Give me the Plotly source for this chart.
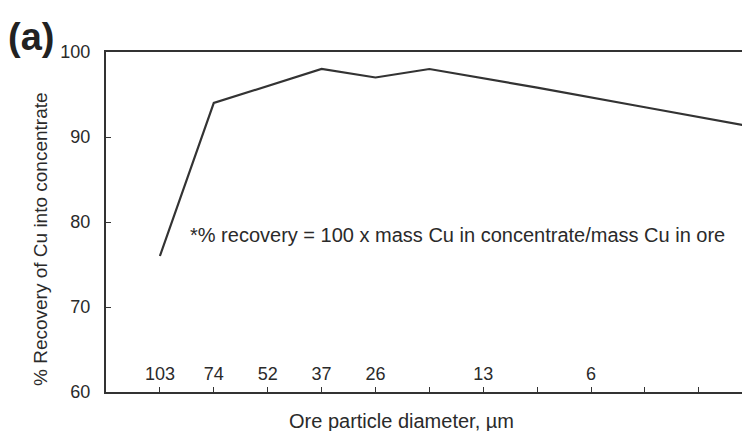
import plotly.graph_objects as go

# ---- data ----
x_index = [0, 1, 3, 4, 5, 7, 9, 11]
recovery = [76, 94, 98, 97, 98, 95.8, 93.5, 91.2]

tick_positions = [0, 1, 2, 3, 4, 5, 6, 7, 8, 9, 10]
tick_labels = ["103", "74", "52", "37", "26", "", "13", "", "6", "", ""]

y_ticks = [60, 70, 80, 90, 100]

W, H = 742, 431
L, R, T, B = 106, 0, 52, 39
pw, ph = W - L - R, H - T - B

def px(x):
    return (x - L) / pw

def py(y):
    return (H - B - y) / ph

FONT = "Liberation Sans, Arial, sans-serif"
INK = "#2a2a2a"

fig = go.Figure()
fig.add_trace(go.Scatter(
    x=x_index, y=recovery, mode="lines",
    line=dict(color="#333333", width=2.2),
    showlegend=False, cliponaxis=True,
))

fig.update_layout(
    width=W, height=H,
    margin=dict(l=L, r=R, t=T, b=B, pad=0),
    paper_bgcolor="white", plot_bgcolor="white",
    font=dict(family=FONT, color=INK),
    xaxis=dict(
        range=[-1, 10.8], showgrid=False, zeroline=False,
        showline=True, linecolor="#333333", linewidth=2, mirror=True,
        ticks="inside", ticklen=5, tickwidth=1, tickcolor="#333333",
        tickvals=tick_positions, ticktext=tick_labels,
        ticklabelposition="outside", ticklabelstandoff=-36,
        tickfont=dict(size=18, color=INK),
    ),
    yaxis=dict(
        range=[60, 100], showgrid=False, zeroline=False,
        showline=True, linecolor="#333333", linewidth=2,
        ticks="inside", ticklen=5, tickwidth=1, tickcolor="#333333",
        tickvals=y_ticks, tickfont=dict(size=18, color=INK),
        ticklabelstandoff=10,
    ),
)

fig.add_annotation(text="<b>(a)</b>", xref="paper", yref="paper",
                   x=px(6), y=py(37), xanchor="left", yanchor="middle",
                   showarrow=False, font=dict(size=38, color="#222222"))
fig.add_annotation(text="% Recovery of Cu into concentrate", xref="paper", yref="paper",
                   x=px(40), y=py(239), xanchor="center", yanchor="middle",
                   textangle=-90, showarrow=False, font=dict(size=19, color=INK))
fig.add_annotation(text="Ore particle diameter, µm", xref="paper", yref="paper",
                   x=px(287), y=py(421), xanchor="left", yanchor="middle",
                   showarrow=False, font=dict(size=20, color=INK))
fig.add_annotation(text="*% recovery = 100 x mass Cu in concentrate/mass Cu in ore",
                   xref="paper", yref="paper",
                   x=px(188), y=py(235), xanchor="left", yanchor="middle",
                   showarrow=False, font=dict(size=20, color=INK))

fig.write_html("out.html")
